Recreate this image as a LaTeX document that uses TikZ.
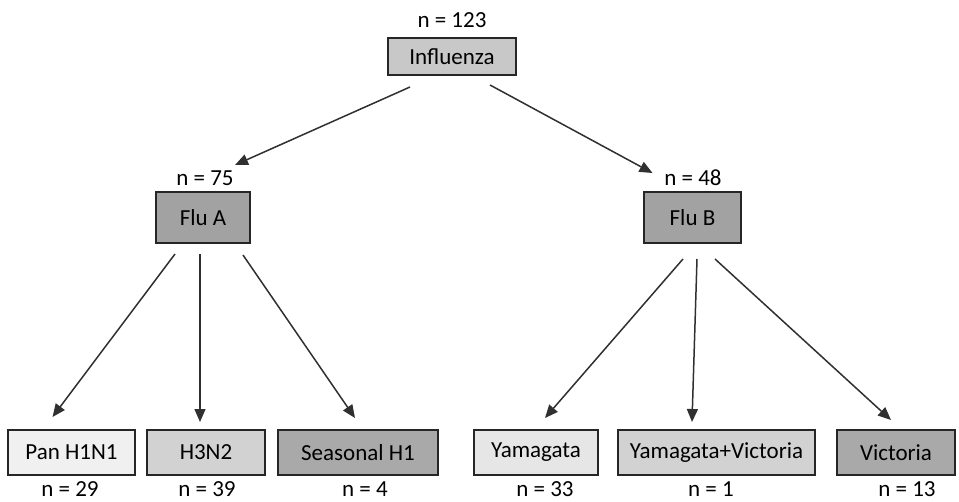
\documentclass[tikz,border=0pt]{standalone}
\usepackage{fontspec}
\setmainfont{Carlito}
\usetikzlibrary{calc,arrows.meta}
\definecolor{cInfl}{HTML}{C8C8C8}
\definecolor{cFlu}{HTML}{A2A2A2}
\definecolor{cPan}{HTML}{F0F0F0}
\definecolor{cMid}{HTML}{D2D2D2}
\definecolor{cDark}{HTML}{A9A9A9}
\definecolor{cYam}{HTML}{E6E6E6}
\definecolor{cBorder}{HTML}{262626}
\definecolor{cArrow}{HTML}{303030}
\begin{document}
\begin{tikzpicture}[x=1pt,y=-1pt,
  box/.style={draw=cBorder,line width=2pt,inner sep=0pt,font=\fontsize{23}{25}\selectfont,text=black},
  lbl/.style={inner sep=0pt,font=\fontsize{23}{25}\selectfont,text=black},
  arr/.style={draw=cArrow,line width=1.5pt,-{Triangle[length=13pt,width=11pt]}}]
\useasboundingbox (0,0) rectangle (959,501);
% top
\node[box,fill=cInfl,minimum width=128pt,minimum height=37pt] (infl) at (452,56.5) {Influenza};
\node[lbl] (ninfl) at (452,20) {n = 123};
% second level
\node[box,fill=cFlu,minimum width=94pt,minimum height=51pt] (fluA) at (203,217.5) {Flu A};
\node[lbl] (nfluA) at (205,178) {n = 75};
\node[box,fill=cFlu,minimum width=97pt,minimum height=51pt] (fluB) at (692.5,217.5) {Flu B};
\node[lbl] (nfluB) at (693,178) {n = 48};
% bottom
\node[box,fill=cPan,minimum width=127pt,minimum height=45pt] (pan) at (71.5,452.5) {Pan H1N1};
\node[lbl] (npan) at (70,489) {n = 29};
\node[box,fill=cMid,minimum width=118pt,minimum height=45pt] (h3n2) at (206,452.5) {H3N2};
\node[lbl] (nh3n2) at (207,489) {n = 39};
\node[box,fill=cDark,minimum width=160pt,minimum height=45pt] (seas) at (358,452.5) {Seasonal H1};
\node[lbl] (nseas) at (365,489) {n = 4};
\node[box,fill=cYam,minimum width=124pt,minimum height=45pt] (yam) at (536,452.5) {Yamagata};
\node[lbl] (nyam) at (545,489) {n = 33};
\node[box,fill=cMid,minimum width=197pt,minimum height=45pt] (yv) at (716.5,452.5) {Yamagata+Victoria};
\node[lbl] (nyv) at (711,489) {n = 1};
\node[box,fill=cDark,minimum width=118pt,minimum height=45pt] (vic) at (896,452.5) {Victoria};
\node[lbl] (nvic) at (907,489) {n = 13};
% arrows
\draw[arr] ($(infl.south)+(-42,11)$) -- ($(fluA.north)+(32,-26)$);
\draw[arr] ($(infl.south)+(38,9)$) -- ($(fluB.north)+(-40,-18)$);
\draw[arr] ($(fluA.south)+(-28,10)$) -- ($(pan.north)+(-19,-12)$);
\draw[arr] ($(fluA.south)+(-3,10)$) -- ($(h3n2.north)+(-6,-7)$);
\draw[arr] ($(fluA.south)+(40,11)$) -- ($(seas.north)+(-3,-11)$);
\draw[arr] ($(fluB.south)+(-9.5,15)$) -- ($(yam.north)+(9,-11)$);
\draw[arr] ($(fluB.south)+(4.5,15)$) -- ($(yv.north)+(-24.5,-7)$);
\draw[arr] ($(fluB.south)+(22.5,15)$) -- ($(vic.north)+(-5,-9)$);
\end{tikzpicture}
\end{document}
